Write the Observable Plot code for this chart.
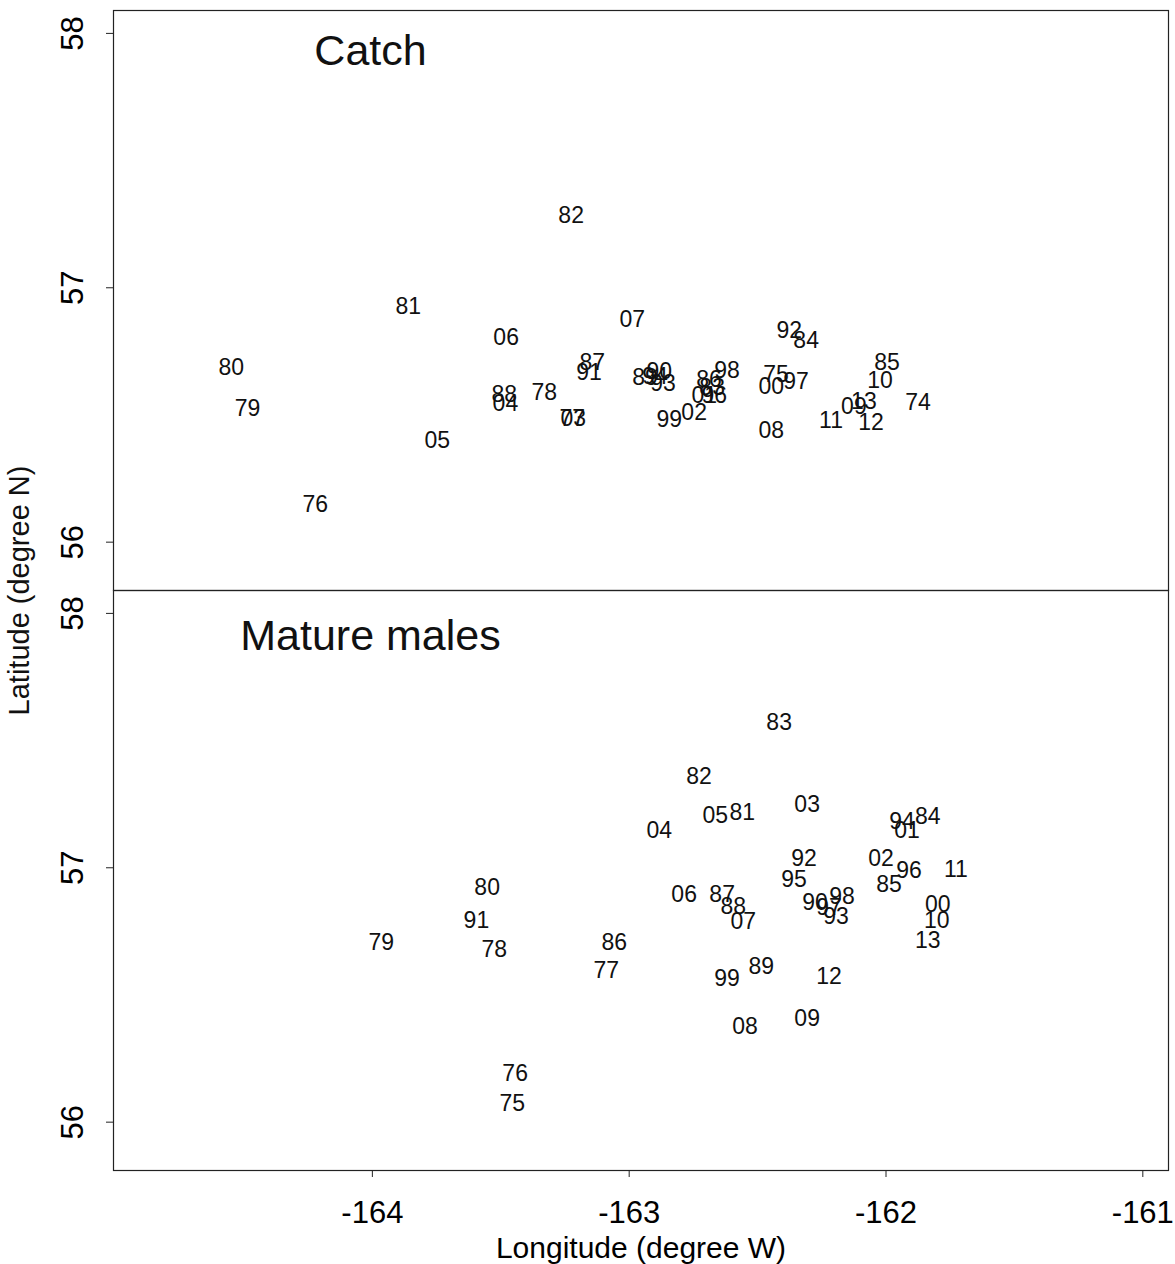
<!DOCTYPE html>
<html>
<head>
<meta charset="utf-8">
<script src="https://cdn.jsdelivr.net/npm/d3@7"></script>
<script src="https://cdn.jsdelivr.net/npm/@observablehq/plot@0.6"></script>
<style>
  body { margin: 0; background: #fff; }
  #chart svg { display: block; }
</style>
</head>
<body>
<div id="chart"></div>
<script>
// Panels
const panels = ["Catch", "Mature males"];

// Top panel: centre of catch by year
const catchYears = ["82","81","80","79","76","05","06","07","87","91","88","04","78","77","03",
  "89","90","94","93","86","83","01","96","98","99","02","92","84","75","00","97","08",
  "85","10","74","11","09","13","12"];
const catchLon = [-163.226,-163.860,-164.549,-164.486,-164.222,-163.747,-163.479,-162.988,-163.144,-163.156,-163.486,-163.482,-163.331,-163.222,-163.218,
  -162.938,-162.883,-162.899,-162.868,-162.689,-162.677,-162.708,-162.669,-162.619,-162.844,-162.747,-162.377,-162.311,-162.428,-162.447,-162.350,-162.447,
  -161.996,-162.023,-161.875,-162.214,-162.125,-162.086,-162.058];
const catchLat = [57.283,56.925,56.686,56.525,56.147,56.399,56.804,56.874,56.705,56.666,56.580,56.544,56.587,56.485,56.485,
  56.646,56.670,56.650,56.623,56.639,56.607,56.576,56.576,56.674,56.481,56.509,56.831,56.792,56.658,56.611,56.631,56.438,
  56.705,56.635,56.548,56.477,56.532,56.552,56.470];

// Bottom panel: centre of mature males by year
const malesYears = ["83","82","05","81","03","04","94","84","01","92","02","96","11","95","85",
  "06","87","88","07","90","97","98","93","00","10","13","80","91","78","79","86","77",
  "99","89","12","09","08","76","75"];
const malesLon = [-162.416,-162.728,-162.665,-162.560,-162.307,-162.883,-161.938,-161.837,-161.918,-162.319,-162.019,-161.910,-161.728,-162.358,-161.988,
  -162.786,-162.638,-162.595,-162.556,-162.276,-162.222,-162.171,-162.195,-161.798,-161.802,-161.837,-163.553,-163.595,-163.525,-163.965,-163.058,-163.089,
  -162.619,-162.486,-162.222,-162.307,-162.549,-163.444,-163.455];
const malesLat = [57.572,57.359,57.205,57.217,57.249,57.146,57.181,57.201,57.146,57.036,57.036,56.988,56.992,56.953,56.933,
  56.893,56.893,56.846,56.787,56.862,56.842,56.886,56.807,56.854,56.791,56.712,56.921,56.791,56.680,56.704,56.704,56.594,
  56.566,56.613,56.574,56.408,56.377,56.191,56.073];

// Axis ticks and labels
const xTicks = [-164, -163, -162, -161];
const yTicks = [56, 57, 58];
const xLabel = "Longitude (degree W)";
const yLabel = "Latitude (degree N)";

const rows = [];
catchYears.forEach((yr, i) => rows.push({panel: panels[0], year: yr, lon: catchLon[i], lat: catchLat[i]}));
malesYears.forEach((yr, i) => rows.push({panel: panels[1], year: yr, lon: malesLon[i], lat: malesLat[i]}));

const chart = Plot.plot({
  width: 1175,
  height: 1264,
  marginLeft: 113,
  marginRight: 7,
  marginTop: 10,
  marginBottom: 94,
  x: {domain: [-165.008, -160.90]},
  y: {domain: [55.81, 58.09]},
  fy: {domain: panels, padding: 0, axis: null, label: null},
  style: {fontFamily: "Liberation Sans, Arial, sans-serif", background: "#fff", color: "#000"},
  marks: [
    Plot.frame({stroke: "#222", strokeWidth: 1.2}),
    Plot.axisY({ticks: yTicks, tickSize: 7, tickRotate: -90, tickPadding: 24, fontSize: 31,
      label: null, tickFormat: d => String(d), stroke: "#222"}),
    Plot.axisX({ticks: xTicks, tickSize: 7, tickPadding: 23, fontSize: 31,
      tickFormat: d => String(d), label: xLabel, labelAnchor: "center", labelArrow: "none", labelOffset: 87, stroke: "#222"}),
    Plot.text(rows, {x: "lon", y: "lat", fy: "panel", text: "year", fontSize: 23, fill: "#111"}),
    Plot.text([{panel: panels[0]}], {fy: "panel", text: "panel", frameAnchor: "top-left",
      dx: 257, dy: 24, lineAnchor: "top", textAnchor: "middle", fontSize: 43, fill: "#111"}),
    Plot.text([{panel: panels[1]}], {fy: "panel", text: "panel", frameAnchor: "top-left",
      dx: 257, dy: 29, lineAnchor: "top", textAnchor: "middle", fontSize: 43, fill: "#111"}),
    Plot.text([{panel: panels[0]}], {fy: "panel", text: () => yLabel, frameAnchor: "bottom-left",
      dx: -85, rotate: -90, textAnchor: "middle", fontSize: 29, fill: "#111"})
  ]
});
// axis title font size
chart.querySelectorAll('g[aria-label="x-axis label"] text').forEach(t => t.setAttribute("font-size", 30));
document.getElementById("chart").appendChild(chart);
</script>
</body>
</html>
